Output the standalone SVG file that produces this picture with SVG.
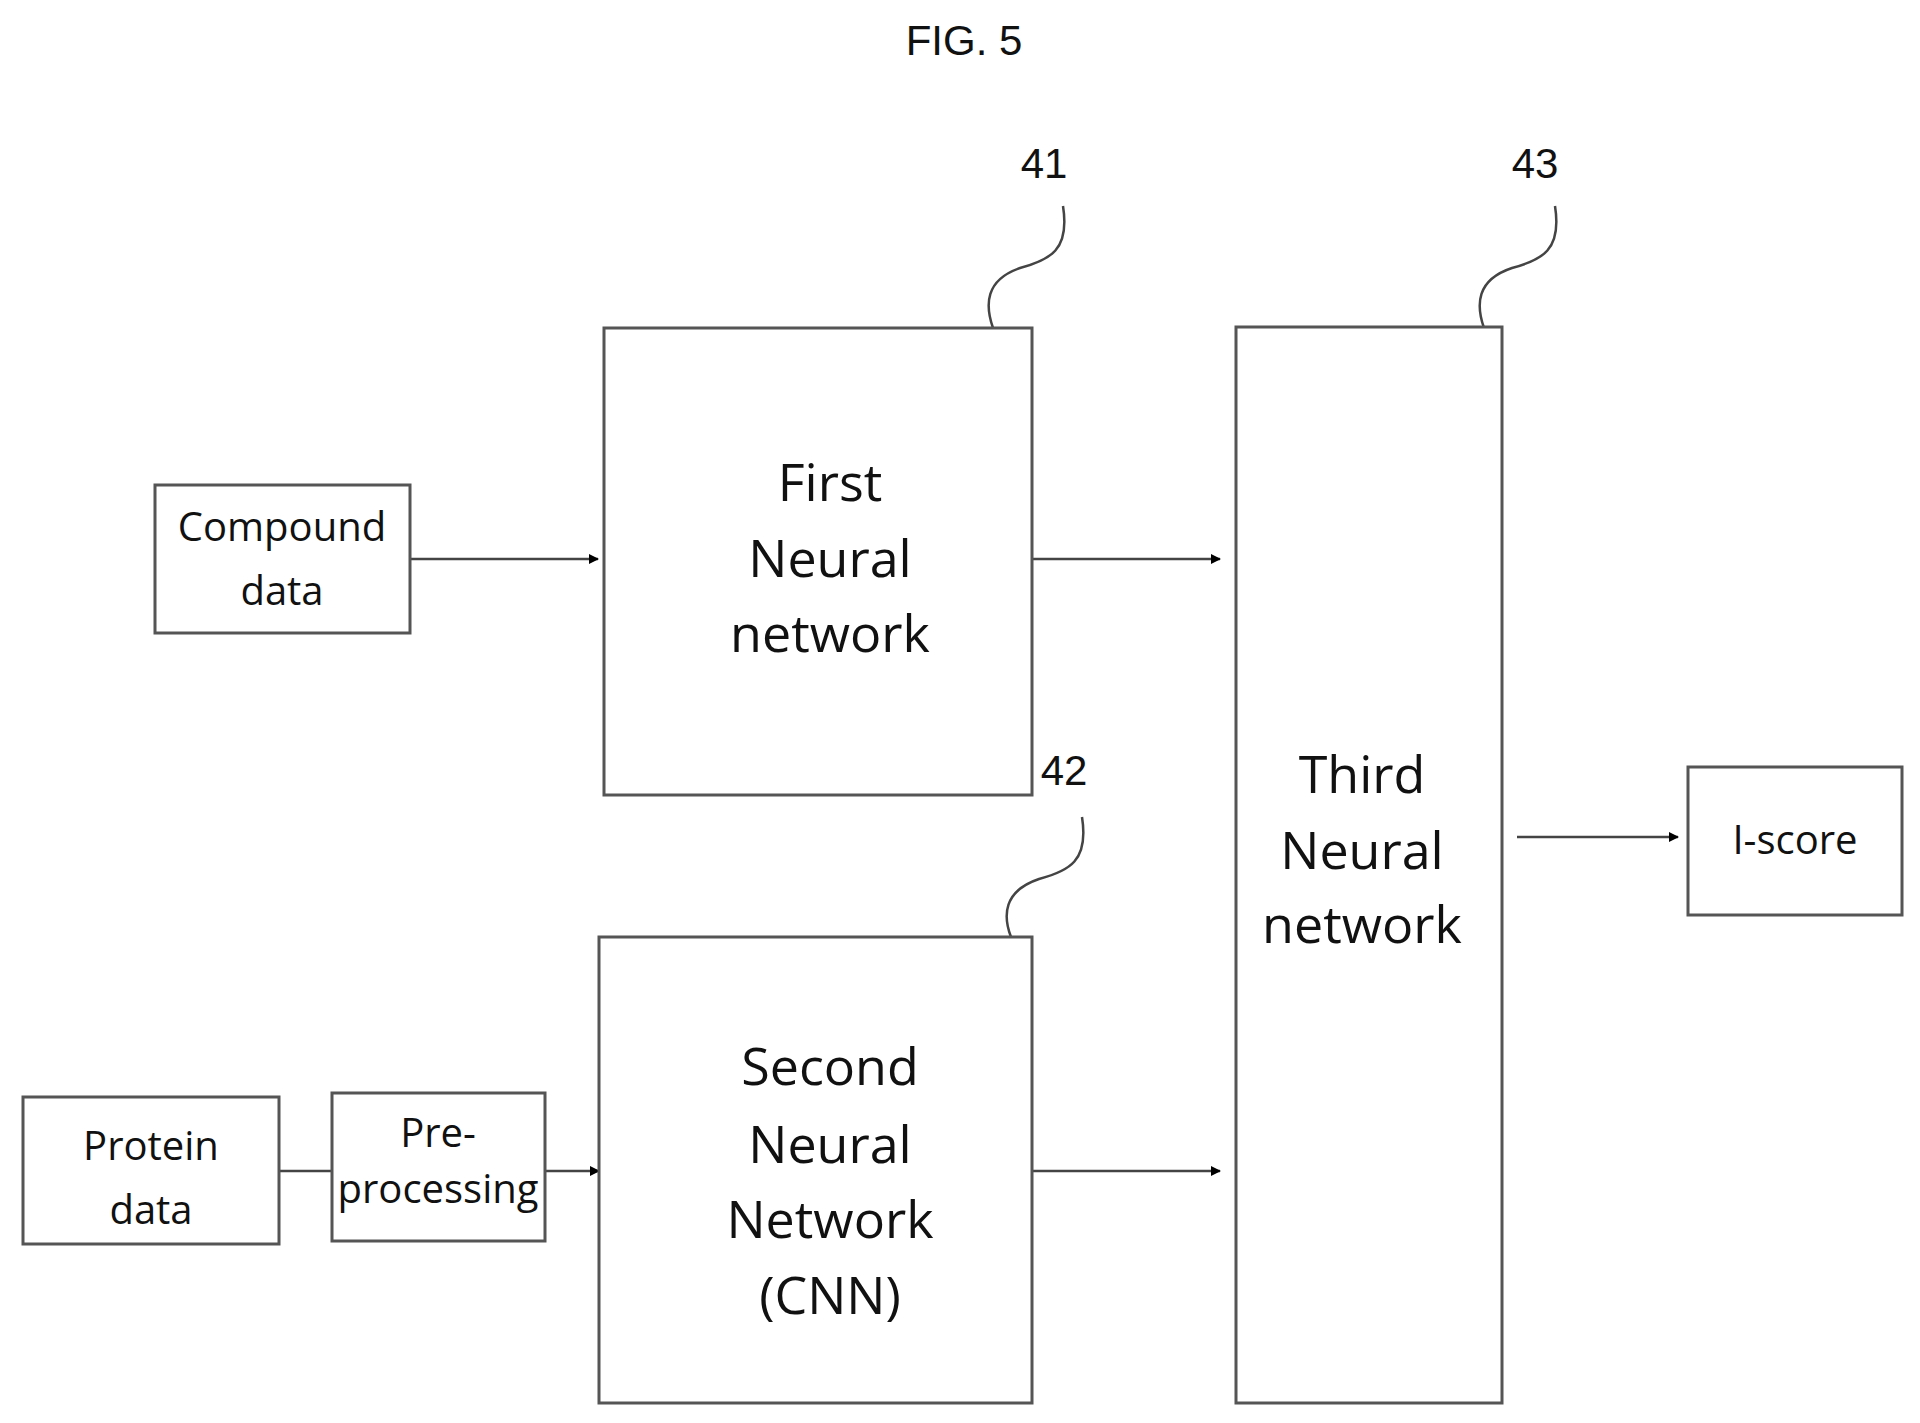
<svg xmlns="http://www.w3.org/2000/svg" width="1920" height="1423" viewBox="0 0 1920 1423">
<defs>
<marker id="ah" markerWidth="10" markerHeight="10" refX="9" refY="5" orient="auto" markerUnits="userSpaceOnUse" viewBox="0 0 10 10"><path d="M0,0 L10,5 L0,10 z" fill="#000"/></marker>
</defs>
<style>
rect{fill:#fff;stroke:#555;stroke-width:3}
.c{stroke:#444;stroke-width:2.5;fill:none}
.b{font-family:"Open Sans","DejaVu Sans",sans-serif;font-size:52px;text-anchor:middle;fill:#111}
.s{font-family:"Open Sans","DejaVu Sans",sans-serif;font-size:40px;text-anchor:middle;fill:#111}
.n{font-family:"Liberation Sans",Arial,sans-serif;font-size:42px;text-anchor:middle;fill:#111}
</style>
<rect width="1920" height="1423" style="fill:#fff;stroke:none"/>
<text class="n" x="964" y="55">FIG. 5</text>
<g id="connectors">
<line class="c" x1="410" y1="559" x2="598" y2="559" marker-end="url(#ah)"/>
<line class="c" x1="1032" y1="559" x2="1220" y2="559" marker-end="url(#ah)"/>
<line class="c" x1="1032" y1="1171" x2="1220" y2="1171" marker-end="url(#ah)"/>
<line class="c" x1="279" y1="1171" x2="332" y2="1171"/>
<line class="c" x1="545" y1="1171" x2="599" y2="1171" marker-end="url(#ah)"/>
<line class="c" x1="1517" y1="837" x2="1678" y2="837" marker-end="url(#ah)"/>
<path class="c" d="M1063,206 C1070,250 1050,260 1020,268 C985,280 985,305 993,328"/>
<path class="c" d="M1555,206 C1562,250 1542,260 1512,268 C1476,280 1476,305 1484,328"/>
<path class="c" d="M1082,817 C1089,861 1069,871 1039,879 C1003,891 1003,916 1011,937"/>
</g>
<g id="n41"><text class="n" x="1044" y="178">41</text></g>
<g id="n43"><text class="n" x="1535" y="178">43</text></g>
<g id="n42"><text class="n" x="1064" y="785">42</text></g>
<g id="compound"><rect x="155" y="485" width="255" height="148"/><text class="s" x="282" y="541">Compound</text><text class="s" x="282" y="605">data</text></g>
<g id="first"><rect x="604" y="328" width="428" height="467"/><text class="b" x="830" y="501">First</text><text class="b" x="830" y="577">Neural</text><text class="b" x="830" y="652">network</text></g>
<g id="protein"><rect x="23" y="1097" width="256" height="147"/><text class="s" x="151" y="1160">Protein</text><text class="s" x="151" y="1224">data</text></g>
<g id="pre"><rect x="332" y="1093" width="213" height="148"/><text class="s" x="438" y="1147">Pre-</text><text class="s" x="438" y="1203">processing</text></g>
<g id="second"><rect x="599" y="937" width="433" height="466"/><text class="b" x="830" y="1085">Second</text><text class="b" x="830" y="1163">Neural</text><text class="b" x="830" y="1238">Network</text><text class="b" x="830" y="1314">(CNN)</text></g>
<g id="third"><rect x="1236" y="327" width="266" height="1076"/><text class="b" x="1362" y="793">Third</text><text class="b" x="1362" y="869">Neural</text><text class="b" x="1362" y="943">network</text></g>
<g id="iscore"><rect x="1688" y="767" width="214" height="148"/><text class="s" x="1795" y="854">I-score</text></g>
</svg>
